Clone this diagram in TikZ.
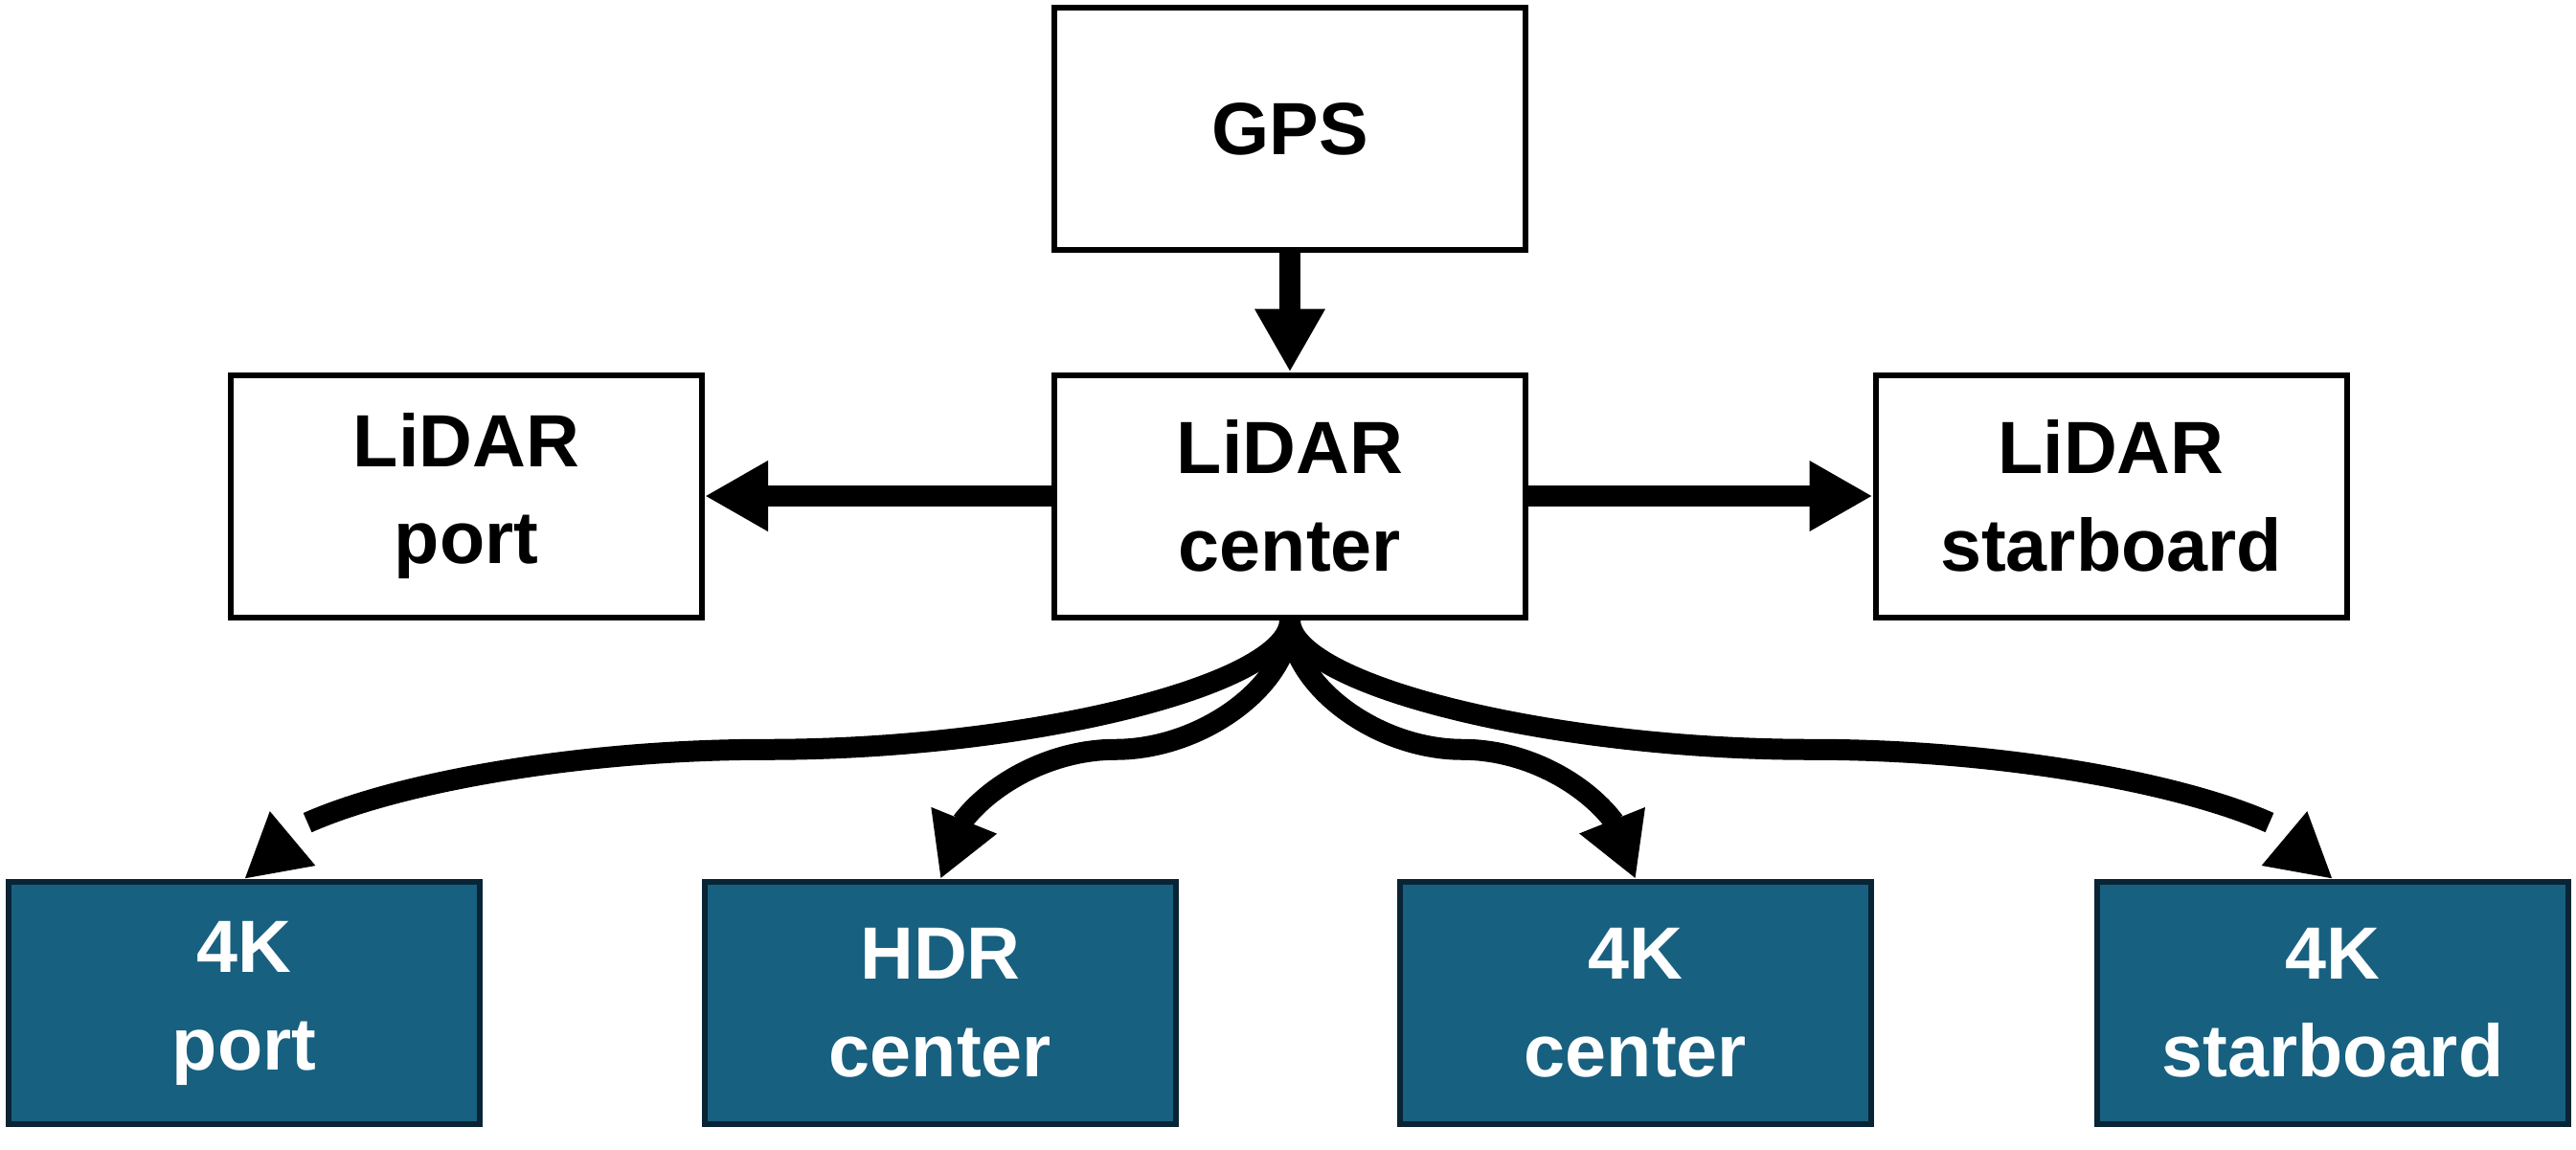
\documentclass[tikz,border=0pt]{standalone}
\usepackage{fontspec}
\setmainfont{Liberation Sans}
\usetikzlibrary{arrows.meta,bending,calc}
\definecolor{camfill}{RGB}{24,96,128}
\definecolor{camline}{RGB}{9,36,52}
\begin{document}
\begin{tikzpicture}[x=1cm,y=1cm,
  box/.style={draw=black, line width=0.06cm, minimum width=4.92cm, minimum height=2.53cm,
    align=center, inner sep=0pt, font=\fontsize{22}{29}\selectfont\bfseries},
  cam/.style={box, fill=camfill, draw=camline, text=white},
  arr/.style={line width=0.22cm, -{Triangle[length=0.66cm,width=0.69cm,flex]}},
]
\useasboundingbox (0,0) rectangle (26.9,-12);
\node[box] (gps) at (13.47,-1.345) {GPS};
\node[box] (lc) at (13.47,-5.18) {LiDAR\\center};
\node[box] (lp) at (4.87,-5.18) {LiDAR\\port};
\node[box] (ls) at (22.045,-5.18) {LiDAR\\starboard};
\node[cam] (c1) at (2.55,-10.475) {4K\\port};
\node[cam] (c2) at (9.82,-10.475) {HDR\\center};
\node[cam] (c3) at (17.08,-10.475) {4K\\center};
\node[cam] (c4) at (24.36,-10.475) {4K\\starboard};

\draw[arr] (gps.south) -- (lc.north);
\draw[arr] (lc.west) -- (lp.east);
\draw[arr] (lc.east) -- (ls.east -| ls.west);

\draw[arr] (lc.south) .. controls +(0,-0.675) and +(2.73,0) .. ($(lc.south)!0.5!(c1.north)$)
  .. controls +(-2.73,0) and +(0,0.675) .. (c1.north);
\draw[arr] (lc.south) .. controls +(0,-0.675) and +(0.9125,0) .. ($(lc.south)!0.5!(c2.north)$)
  .. controls +(-0.9125,0) and +(0,0.675) .. (c2.north);
\draw[arr] (lc.south) .. controls +(0,-0.675) and +(-0.9025,0) .. ($(lc.south)!0.5!(c3.north)$)
  .. controls +(0.9025,0) and +(0,0.675) .. (c3.north);
\draw[arr] (lc.south) .. controls +(0,-0.675) and +(-2.7225,0) .. ($(lc.south)!0.5!(c4.north)$)
  .. controls +(2.7225,0) and +(0,0.675) .. (c4.north);
\end{tikzpicture}
\end{document}
